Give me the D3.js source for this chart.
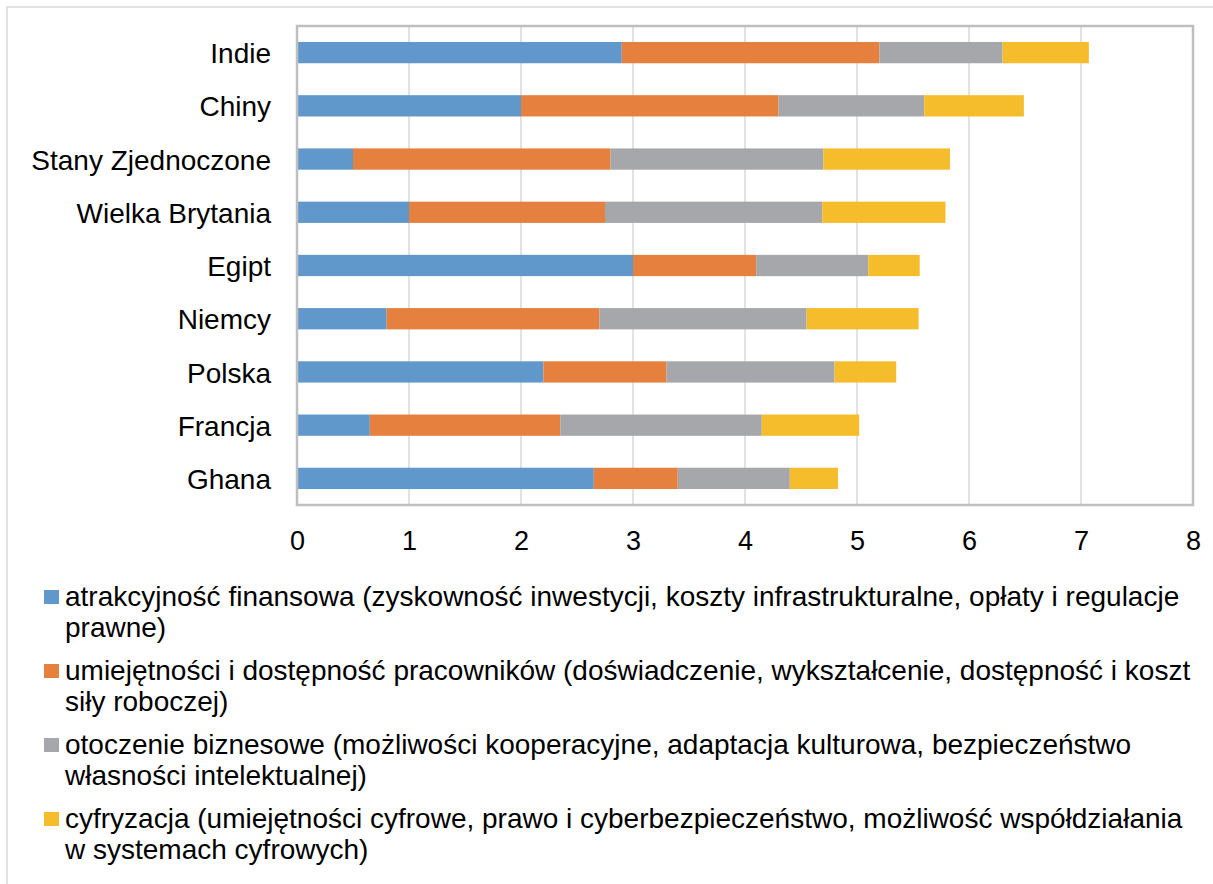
<!DOCTYPE html>
<html>
<head>
<meta charset="utf-8">
<script src="https://cdn.jsdelivr.net/npm/d3@7"></script>
<style>
  body { margin: 0; background: #fff; }
  text { font-family: "Liberation Sans", Arial, sans-serif; fill: #000; }
</style>
</head>
<body>
<div id="chart"></div>
<script>
// dane
var kraje = ["Indie", "Chiny", "Stany Zjednoczone", "Wielka Brytania", "Egipt", "Niemcy", "Polska", "Francja", "Ghana"];
var finansowa = [2.9, 2.0, 0.5, 1.0, 3.0, 0.8, 2.2, 0.65, 2.65];
var pracownicy = [2.3, 2.3, 2.3, 1.75, 1.1, 1.9, 1.1, 1.7, 0.75];
var otoczenie = [1.1, 1.3, 1.9, 1.94, 1.0, 1.85, 1.5, 1.8, 1.0];
var cyfryzacja = [0.77, 0.89, 1.13, 1.1, 0.46, 1.0, 0.55, 0.87, 0.43];
var xTicks = [0, 1, 2, 3, 4, 5, 6, 7, 8];
var legenda = [
  "atrakcyjność finansowa (zyskowność inwestycji, koszty infrastrukturalne, opłaty i regulacje prawne)",
  "umiejętności i dostępność pracowników (doświadczenie, wykształcenie, dostępność i koszt siły roboczej)",
  "otoczenie biznesowe (możliwości kooperacyjne, adaptacja kulturowa, bezpieczeństwo własności intelektualnej)",
  "cyfryzacja (umiejętności cyfrowe, prawo i cyberbezpieczeństwo, możliwość współdziałania w systemach cyfrowych)"
];
var kolory = ["#6198cb", "#e6803f", "#a6a7aa", "#f5bd2b"];

var width = 1213, height = 884;
var margin = {top: 26, left: 297};
var plotW = 1193 - margin.left, plotH = 505 - margin.top;

var svg = d3.select("#chart").append("svg")
  .attr("width", width).attr("height", height);

// ramka wykresu
svg.append("rect")
  .attr("x", 7).attr("y", 7).attr("width", width + 20).attr("height", height + 20)
  .attr("fill", "none").attr("stroke", "#d9d9d9").attr("stroke-width", 1.5);

var g = svg.append("g").attr("transform", "translate(" + margin.left + "," + margin.top + ")");

var x = d3.scaleLinear().domain([0, 8]).range([0, plotW]);
var y = d3.scaleBand().domain(kraje).range([0, plotH]).paddingInner(0.6).paddingOuter(0.3);

// siatka
g.selectAll(".grid").data(xTicks).enter().append("line")
  .attr("x1", function(d) { return x(d); }).attr("x2", function(d) { return x(d); })
  .attr("y1", 0).attr("y2", plotH)
  .attr("stroke", "#d9d9d9").attr("stroke-width", 1.5);

// dane stosu
var dane = kraje.map(function(k, i) {
  return {kraj: k, s0: finansowa[i], s1: pracownicy[i], s2: otoczenie[i], s3: cyfryzacja[i]};
});
var stack = d3.stack().keys(["s0", "s1", "s2", "s3"]);
var serie = stack(dane);

g.selectAll(".serie").data(serie).enter().append("g")
  .attr("fill", function(d, i) { return kolory[i]; })
  .selectAll("rect").data(function(d) { return d; }).enter().append("rect")
  .attr("x", function(d) { return x(d[0]); })
  .attr("y", function(d) { return y(d.data.kraj); })
  .attr("width", function(d) { return x(d[1]) - x(d[0]); })
  .attr("height", y.bandwidth());

// obramowanie obszaru
g.append("rect")
  .attr("x", 0).attr("y", 0).attr("width", plotW).attr("height", plotH)
  .attr("fill", "none").attr("stroke", "#bfbfbf").attr("stroke-width", 2.5);

// osie
var xAxis = g.append("g").attr("transform", "translate(0," + plotH + ")")
  .call(d3.axisBottom(x).tickValues(xTicks).tickSize(0).tickPadding(26));
xAxis.select(".domain").remove();
xAxis.selectAll("text").style("font-size", "27px").attr("fill", "#000");

var yAxis = g.append("g")
  .call(d3.axisLeft(y).tickSize(0).tickPadding(26));
yAxis.select(".domain").remove();
yAxis.selectAll("text").style("font-size", "28px").attr("fill", "#000").attr("dy", "0.38em");

// legenda
var legY = 606, lineH = 31, entryH = 74, maxW = 1132;
var leg = svg.append("g");
legenda.forEach(function(t, i) {
  var top = legY + i * entryH;
  leg.append("rect").attr("x", 44).attr("y", top - 16).attr("width", 15).attr("height", 14)
    .attr("fill", kolory[i]);
  var txt = leg.append("text").attr("x", 65).attr("y", top).style("font-size", "28px");
  // zawijanie tekstu
  var words = t.split(" "), line = [], n = 0;
  var tspan = txt.append("tspan").attr("x", 65).attr("y", top);
  words.forEach(function(w) {
    line.push(w);
    tspan.text(line.join(" "));
    if (tspan.node().getComputedTextLength() > maxW && line.length > 1) {
      line.pop();
      tspan.text(line.join(" "));
      line = [w];
      n++;
      tspan = txt.append("tspan").attr("x", 65).attr("y", top + n * lineH).text(w);
    }
  });
});
</script>
</body>
</html>
